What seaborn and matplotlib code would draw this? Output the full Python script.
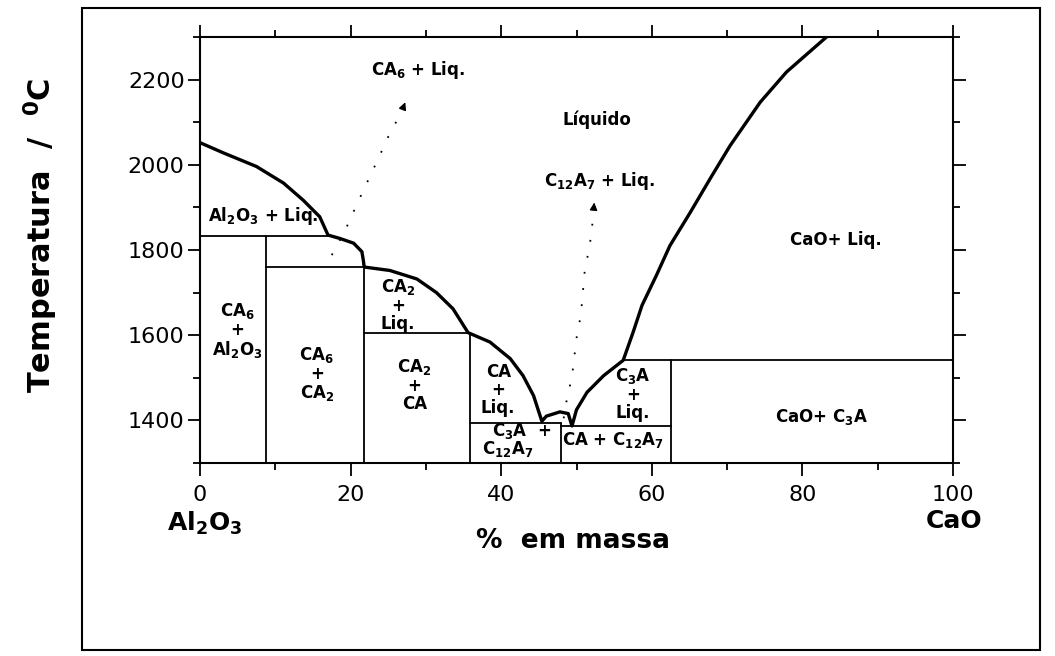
import matplotlib
matplotlib.use('Agg')
import matplotlib.pyplot as plt
from matplotlib.ticker import MultipleLocator
from matplotlib.patches import Rectangle
import seaborn as sns

# Diagrama de fases Al2O3 - CaO (x = % CaO em massa, T em graus C)

# curva liquidus
liq_x = [0, 3.1, 7.5, 11.1, 13.7, 15.9, 17.0, 18.6, 20.4, 21.5, 21.7, 21.8, 25.2, 28.8, 31.4,
         33.6, 35.6, 38.5, 41.2, 42.9, 44.3, 45.4, 46.0, 47.8, 48.9, 49.4,
         50.0, 51.4, 53.6, 56.2, 57.5, 58.7, 60.6, 62.4, 65.1, 67.7, 70.4, 74.4, 77.9, 83.2]
liq_T = [2052, 2028, 1996, 1957, 1917, 1878, 1835, 1827, 1816, 1796, 1775, 1760, 1752, 1732, 1700,
         1662, 1606, 1584, 1545, 1505, 1458, 1398, 1410, 1420, 1416, 1387,
         1425, 1466, 1505, 1541, 1606, 1670, 1740, 1810, 1888, 1966, 2045, 2147, 2218, 2300]

# isotermas (T, x inicial, x final)
iso_T = [1832, 1760, 1606, 1395, 1386, 1541]
iso_x0 = [0, 8.7, 21.8, 35.8, 48.0, 56.2]
iso_x1 = [17.3, 21.8, 35.8, 48.0, 62.6, 100]

# linhas dos compostos CA6, CA2, CA, C12A7, C3A
comp_x = [8.7, 21.8, 35.8, 48.0, 62.6]
comp_T = [1832, 1760, 1606, 1395, 1541]
T_min = 1300

# linhas pontilhadas (metaestaveis)
met1_x = [17.5, 19.3, 20.8, 23.9, 25.0, 26.3, 27.0]
met1_T = [1788, 1847, 1906, 2023, 2066, 2109, 2135]
met1_head = (27.4, 2153)
met2_x = [48.3, 48.7, 49.4, 50.0, 50.5, 50.7, 51.1, 51.6, 52.0, 52.2, 52.3]
met2_T = [1405, 1448, 1503, 1593, 1640, 1671, 1753, 1796, 1839, 1882, 1900]
met2_head = (52.4, 1918)

# rotulos das regioes
lab_txt = [r'CA$_\mathbf{6}$ + Liq.', 'Líquido', r'C$_\mathbf{12}$A$_\mathbf{7}$ + Liq.', 'CaO+ Liq.',
           r'Al$_\mathbf{2}$O$_\mathbf{3}$ + Liq.', 'CA$_\\mathbf{6}$\n+\nAl$_\\mathbf{2}$O$_\\mathbf{3}$',
           'CA$_\\mathbf{6}$\n+\nCA$_\\mathbf{2}$', 'CA$_\\mathbf{2}$\n+\nLiq.',
           'CA$_\\mathbf{2}$\n+\nCA', 'CA\n+\nLiq.', r'C$_\mathbf{3}$A  +',
           r'C$_\mathbf{12}$A$_\mathbf{7}$', r'CA + C$_\mathbf{12}$A$_\mathbf{7}$',
           'C$_\\mathbf{3}$A\n+\nLiq.', r'CaO+ C$_\mathbf{3}$A']
lab_x = [28.9, 52.7, 53.0, 84.4, 8.4, 4.9, 15.5, 26.3, 28.5, 39.6, 42.7, 40.8, 54.8, 57.5, 82.6]
lab_T = [2223, 2106, 1962, 1824, 1879, 1612, 1508, 1672, 1482, 1471, 1376, 1333, 1353, 1463, 1408]

sns.set_style('ticks')
plt.rcParams['font.family'] = ['DejaVu Sans']
plt.rcParams['text.color'] = 'black'
plt.rcParams['axes.labelcolor'] = 'black'

fig = plt.figure(figsize=(10.55, 6.56), dpi=100)
ax = fig.add_axes([200 / 1055, 1 - 463 / 656, 753 / 1055, 426 / 656])

sns.lineplot(x=liq_x, y=liq_T, sort=False, estimator=None, color='black', lw=2.4, ax=ax)
for T, x0, x1 in zip(iso_T, iso_x0, iso_x1):
    sns.lineplot(x=[x0, x1], y=[T, T], color='black', lw=1.3, ax=ax)
for x, T in zip(comp_x, comp_T):
    sns.lineplot(x=[x, x], y=[T_min, T], sort=False, estimator=None, color='black', lw=1.3, ax=ax)

for mx, mT, head in [(met1_x, met1_T, met1_head), (met2_x, met2_T, met2_head)]:
    sns.lineplot(x=mx, y=mT, sort=False, estimator=None, color='black', lw=1.3,
                 linestyle=(0, (1, 8)), ax=ax)
    ax.annotate('', xy=head, xytext=(mx[-1], mT[-1]),
                arrowprops=dict(arrowstyle='-|>', color='black', lw=1, mutation_scale=11))

for t, x, T in zip(lab_txt, lab_x, lab_T):
    ax.text(x, T, t, ha='center', va='center', fontsize=12, fontweight='bold',
            linespacing=1.0, color='black')

ax.set_xlim(0, 100)
ax.set_ylim(1300, 2300)
ax.xaxis.set_major_locator(MultipleLocator(20))
ax.xaxis.set_minor_locator(MultipleLocator(10))
ax.yaxis.set_major_locator(MultipleLocator(200))
ax.yaxis.set_minor_locator(MultipleLocator(100))
ax.tick_params(which='both', direction='out', top=True, right=True, width=1.3,
               colors='black', labelcolor='black')
ax.tick_params(which='major', length=9, labelsize=16)
ax.tick_params(which='minor', length=5)
ax.tick_params(axis='x', pad=7)
ax.tick_params(axis='y', pad=2)
for s in ax.spines.values():
    s.set_linewidth(1.5)
    s.set_color('black')
ax.set_xlabel('')
ax.set_ylabel('')

fig.text(41 / 1055, 1 - 235 / 656, 'Temperatura  /  $^\\mathbf{0}$C', rotation=90,
         ha='center', va='center', fontsize=22, fontweight='bold', color='black')
fig.text(205 / 1055, 1 - 523 / 656, r'Al$_\mathbf{2}$O$_\mathbf{3}$', ha='center', va='center',
         fontsize=18, fontweight='bold', color='black')
fig.text(954 / 1055, 1 - 521 / 656, 'CaO', ha='center', va='center', fontsize=18,
         fontweight='bold', color='black')
fig.text(573 / 1055, 1 - 541 / 656, '%  em massa', ha='center', va='center', fontsize=19,
         fontweight='bold', color='black')

fig.patches.append(Rectangle((82 / 1055, 1 - 650 / 656), 958 / 1055, 642 / 656,
                             transform=fig.transFigure, fill=False, edgecolor='black', lw=1.5))

fig.savefig('out.png', dpi=100)
